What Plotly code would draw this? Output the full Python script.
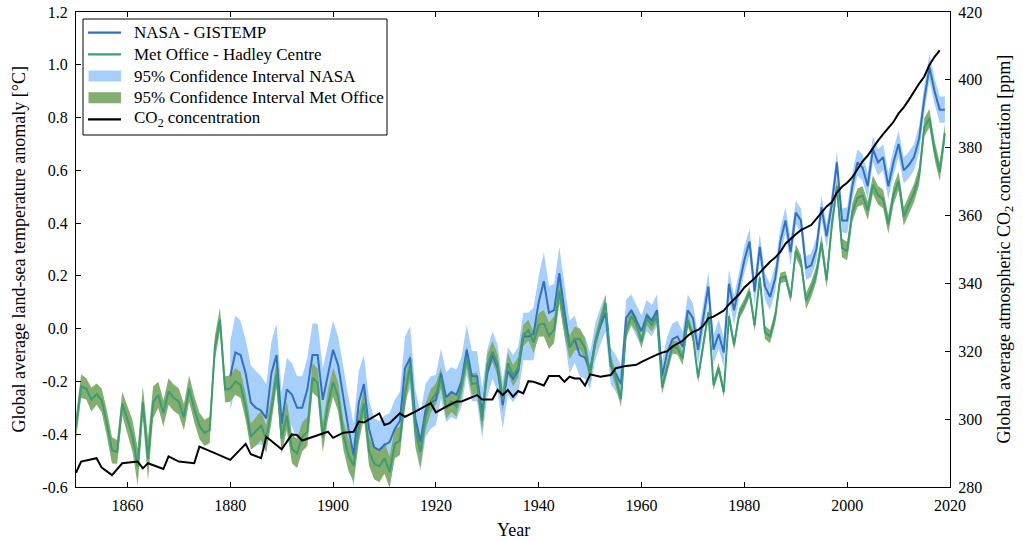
import plotly.graph_objects as go

# ---- Met Office HadCRUT anomalies (°C), 1850-2019 ----
met_years = list(range(1850, 2020))
met_anom = [
    -0.373, -0.218, -0.228, -0.269, -0.248, -0.272, -0.358, -0.461, -0.467, -0.284,
    -0.343, -0.407, -0.524, -0.278, -0.494, -0.279, -0.251, -0.321, -0.238, -0.262,
    -0.276, -0.335, -0.227, -0.304, -0.368, -0.395, -0.384, -0.075, 0.035, -0.230,
    -0.227, -0.200, -0.213, -0.296, -0.409, -0.389, -0.367, -0.418, -0.307, -0.171,
    -0.416, -0.330, -0.455, -0.473, -0.410, -0.390, -0.186, -0.206, -0.412, -0.289,
    -0.203, -0.259, -0.402, -0.479, -0.520, -0.377, -0.283, -0.465, -0.511, -0.522,
    -0.490, -0.544, -0.437, -0.424, -0.244, -0.141, -0.383, -0.468, -0.333, -0.275,
    -0.247, -0.187, -0.302, -0.276, -0.294, -0.215, -0.108, -0.210, -0.206, -0.350,
    -0.137, -0.087, -0.137, -0.273, -0.131, -0.178, -0.147, -0.026, -0.006, -0.052,
    0.014, 0.020, -0.027, -0.004, 0.144, 0.025, -0.071, -0.038, -0.039, -0.074,
    -0.173, -0.052, 0.028, 0.097, -0.129, -0.190, -0.267, -0.007, 0.046, 0.017,
    -0.049, 0.038, 0.014, 0.048, -0.223, -0.140, -0.068, -0.074, -0.113, 0.032,
    -0.027, -0.186, -0.065, 0.062, -0.214, -0.149, -0.241, 0.047, -0.062, 0.057,
    0.092, 0.140, 0.011, 0.194, -0.014, -0.030, 0.045, 0.192, 0.198, 0.118,
    0.296, 0.254, 0.105, 0.148, 0.208, 0.325, 0.183, 0.390, 0.539, 0.306,
    0.294, 0.441, 0.496, 0.505, 0.447, 0.545, 0.506, 0.491, 0.395, 0.506,
    0.560, 0.425, 0.470, 0.514, 0.579, 0.763, 0.797, 0.677, 0.595, 0.741,
]
# half-width of the 95% interval (°C)
met_ci = [
    0.045, 0.045, 0.040, 0.045, 0.040, 0.045, 0.050, 0.050, 0.045, 0.045,
    0.050, 0.060, 0.070, 0.060, 0.080, 0.060, 0.050, 0.050, 0.050, 0.050,
    0.050, 0.050, 0.050, 0.050, 0.050, 0.050, 0.050, 0.045, 0.045, 0.050,
    0.050, 0.050, 0.050, 0.050, 0.050, 0.055, 0.055, 0.050, 0.050, 0.050,
    0.055, 0.055, 0.055, 0.055, 0.055, 0.055, 0.055, 0.055, 0.055, 0.055,
    0.055, 0.055, 0.055, 0.060, 0.060, 0.055, 0.055, 0.055, 0.060, 0.060,
    0.060, 0.060, 0.055, 0.055, 0.055, 0.050, 0.060, 0.060, 0.050, 0.045,
    0.040, 0.040, 0.040, 0.040, 0.040, 0.040, 0.040, 0.040, 0.040, 0.040,
    0.040, 0.040, 0.040, 0.040, 0.040, 0.040, 0.040, 0.040, 0.040, 0.040,
    0.045, 0.050, 0.050, 0.050, 0.050, 0.050, 0.045, 0.045, 0.040, 0.040,
    0.030, 0.030, 0.030, 0.030, 0.030, 0.030, 0.030, 0.030, 0.030, 0.030,
    0.025, 0.025, 0.025, 0.025, 0.025, 0.025, 0.025, 0.025, 0.025, 0.025,
    0.020, 0.020, 0.020, 0.020, 0.020, 0.020, 0.020, 0.020, 0.020, 0.020,
    0.020, 0.020, 0.020, 0.020, 0.025, 0.025, 0.025, 0.020, 0.020, 0.020,
    0.025, 0.025, 0.030, 0.030, 0.030, 0.030, 0.030, 0.030, 0.030, 0.035,
    0.035, 0.035, 0.035, 0.035, 0.035, 0.035, 0.035, 0.035, 0.035, 0.035,
    0.035, 0.035, 0.035, 0.035, 0.035, 0.035, 0.035, 0.035, 0.035, 0.035,
]

# ---- NASA GISTEMP anomalies (°C), 1880-2019 ----
nasa_years = list(range(1880, 2020))
nasa_anom = [
    -0.18, -0.09, -0.10, -0.17, -0.28, -0.30, -0.31, -0.34, -0.17, -0.10,
    -0.36, -0.23, -0.25, -0.30, -0.30, -0.23, -0.10, -0.10, -0.27, -0.17,
    -0.08, -0.14, -0.26, -0.38, -0.48, -0.28, -0.21, -0.38, -0.45, -0.46,
    -0.44, -0.43, -0.38, -0.35, -0.15, -0.11, -0.34, -0.43, -0.31, -0.28,
    -0.27, -0.17, -0.26, -0.24, -0.25, -0.20, -0.08, -0.18, -0.18, -0.32,
    -0.17, -0.10, -0.15, -0.29, -0.16, -0.19, -0.16, -0.03, -0.03, -0.02,
    0.10, 0.18, 0.06, 0.07, 0.21, 0.07, -0.07, -0.04, -0.10, -0.11,
    -0.16, -0.05, 0.01, 0.06, -0.14, -0.17, -0.21, 0.04, 0.07, 0.03,
    -0.01, 0.05, 0.03, 0.07, -0.18, -0.09, -0.04, -0.03, -0.07, 0.07,
    0.04, -0.08, 0.04, 0.16, -0.08, -0.02, -0.09, 0.17, 0.07, 0.16,
    0.26, 0.33, 0.14, 0.31, 0.16, 0.12, 0.19, 0.33, 0.41, 0.29,
    0.44, 0.41, 0.23, 0.24, 0.30, 0.46, 0.35, 0.47, 0.63, 0.41,
    0.41, 0.54, 0.63, 0.61, 0.54, 0.68, 0.63, 0.65, 0.54, 0.63,
    0.70, 0.60, 0.62, 0.65, 0.72, 0.87, 0.99, 0.90, 0.83, 0.83,
]
nasa_ci = [
    0.13, 0.14, 0.13, 0.13, 0.14, 0.14, 0.13, 0.13, 0.12, 0.12,
    0.12, 0.12, 0.12, 0.12, 0.12, 0.12, 0.12, 0.12, 0.12, 0.11,
    0.11, 0.11, 0.11, 0.12, 0.12, 0.12, 0.11, 0.11, 0.11, 0.11,
    0.11, 0.11, 0.11, 0.11, 0.12, 0.12, 0.11, 0.11, 0.10, 0.10,
    0.095, 0.095, 0.095, 0.095, 0.095, 0.095, 0.095, 0.095, 0.095, 0.095,
    0.09, 0.09, 0.09, 0.09, 0.09, 0.09, 0.09, 0.09, 0.09, 0.10,
    0.10, 0.11, 0.10, 0.10, 0.10, 0.10, 0.10, 0.09, 0.08, 0.08,
    0.07, 0.07, 0.07, 0.07, 0.07, 0.07, 0.07, 0.07, 0.06, 0.06,
    0.06, 0.06, 0.06, 0.06, 0.06, 0.06, 0.06, 0.06, 0.06, 0.06,
    0.055, 0.055, 0.055, 0.055, 0.055, 0.055, 0.055, 0.055, 0.055, 0.055,
    0.05, 0.05, 0.05, 0.05, 0.05, 0.05, 0.05, 0.05, 0.05, 0.05,
    0.045, 0.045, 0.045, 0.045, 0.045, 0.045, 0.045, 0.045, 0.045, 0.045,
    0.05, 0.05, 0.05, 0.05, 0.05, 0.05, 0.05, 0.05, 0.05, 0.05,
    0.05, 0.05, 0.05, 0.05, 0.05, 0.05, 0.05, 0.05, 0.05, 0.05,
]

# ---- Atmospheric CO2 (ppm) ----
co2_years = [
    1850, 1851, 1854, 1855, 1857, 1859, 1862, 1863, 1864, 1867, 1868, 1870,
    1873, 1874, 1877, 1880, 1883, 1884, 1886, 1887, 1890, 1892, 1893, 1894,
    1899, 1900, 1902, 1904, 1905, 1906, 1909, 1910, 1911, 1912, 1913, 1914,
    1916, 1919, 1920, 1922, 1924, 1925, 1928, 1929, 1931, 1932, 1933, 1934,
    1935, 1936, 1937, 1938, 1939, 1941, 1942, 1944, 1945, 1946, 1947, 1948,
    1949, 1950, 1952, 1954, 1955, 1957,
    1959, 1960, 1961, 1962, 1963, 1964, 1965, 1966, 1967, 1968, 1969,
    1970, 1971, 1972, 1973, 1974, 1975, 1976, 1977, 1978, 1979,
    1980, 1981, 1982, 1983, 1984, 1985, 1986, 1987, 1988, 1989,
    1990, 1991, 1992, 1993, 1994, 1995, 1996, 1997, 1998, 1999,
    2000, 2001, 2002, 2003, 2004, 2005, 2006, 2007, 2008, 2009,
    2010, 2011, 2012, 2013, 2014, 2015, 2016, 2017, 2018,
]
co2_ppm = [
    284.2, 287.5, 288.5, 285.7, 283.5, 287.0, 287.5, 285.5, 287.0, 285.3, 289.0, 287.5,
    287.0, 291.9, 290.0, 288.0, 292.7, 289.7, 288.5, 294.8, 291.1, 295.5, 295.3, 293.7,
    296.3, 294.5, 296.0, 296.3, 299.3, 299.0, 301.7, 298.3, 298.8, 300.3, 301.7, 300.7,
    302.2, 304.7, 302.0, 303.7, 305.2, 305.2, 307.1, 305.8, 305.8, 308.6, 307.1, 308.6,
    306.6, 308.3, 307.6, 311.2, 311.0, 309.9, 312.7, 312.7, 311.0, 312.5, 312.0, 312.0,
    309.9, 313.2, 312.5, 313.0, 315.0, 315.7,
    316.0, 316.9, 317.6, 318.5, 319.0, 319.6, 320.0, 321.4, 322.2, 323.1, 324.6,
    325.7, 326.3, 327.5, 329.7, 330.2, 331.1, 332.0, 333.8, 335.4, 336.8,
    338.8, 340.1, 341.5, 343.2, 344.9, 346.4, 347.6, 349.3, 351.7, 353.2,
    354.5, 355.7, 356.5, 357.2, 359.0, 361.0, 362.7, 363.9, 366.8, 368.5,
    369.7, 371.3, 373.5, 376.0, 377.7, 380.0, 382.1, 384.0, 385.8, 387.6,
    390.1, 391.9, 394.1, 396.7, 398.9, 401.0, 404.4, 406.8, 408.7,
]

FONT = "Liberation Serif"
NASA_LINE = "#3471bd"
NASA_FILL = "#a7cffb"
MET_LINE = "#3c9c74"
MET_FILL = "#84ad70"

# plot-area geometry in pixels
W, H = 1023, 541
ML, MR, MT, MB = 76, 73, 12, 54
PW, PH = W - ML - MR, H - MT - MB


def px_x(px):
    """Pixel column -> paper x."""
    return (px - ML) / PW


def px_y(py):
    """Pixel row -> paper y."""
    return 1 - (py - MT) / PH


def band(x, centre, half, color, name):
    upper = [c + h for c, h in zip(centre, half)]
    lower = [c - h for c, h in zip(centre, half)]
    return go.Scatter(
        x=x + x[::-1], y=upper + lower[::-1],
        mode="lines", fill="toself", fillcolor=color,
        line=dict(width=0, color=color), name=name, hoverinfo="skip",
    )


fig = go.Figure()
fig.add_trace(band(nasa_years, nasa_anom, nasa_ci, NASA_FILL,
                   "95% Confidence Interval NASA"))
fig.add_trace(band(met_years, met_anom, met_ci, MET_FILL,
                   "95% Confidence Interval Met Office"))
fig.add_trace(go.Scatter(x=nasa_years, y=nasa_anom, mode="lines",
                         line=dict(color=NASA_LINE, width=2),
                         name="NASA - GISTEMP"))
fig.add_trace(go.Scatter(x=met_years, y=met_anom, mode="lines",
                         line=dict(color=MET_LINE, width=2),
                         name="Met Office - Hadley Centre"))
fig.add_trace(go.Scatter(x=co2_years, y=co2_ppm, mode="lines", yaxis="y2",
                         line=dict(color="black", width=2),
                         name="CO<sub>2</sub> concentration"))

temp_ticks = [-0.6, -0.4, -0.2, 0.0, 0.2, 0.4, 0.6, 0.8, 1.0, 1.2]
temp_labels = ["-0.6", "-0.4", "-0.2", "0.0", "0.2", "0.4", "0.6", "0.8", "1.0", "1.2"]
year_ticks = [1860, 1880, 1900, 1920, 1940, 1960, 1980, 2000, 2020]
co2_ticks = [280, 300, 320, 340, 360, 380, 400, 420]

axis_common = dict(showline=True, linecolor="black", linewidth=1.2,
                   ticks="inside", ticklen=5, tickcolor="black",
                   showgrid=False, zeroline=False, automargin=False,
                   ticklabelstandoff=4,
                   tickfont=dict(family=FONT, size=16, color="black"))

title_font = dict(family=FONT, size=18, color="black")
annotations = [
    dict(text="Year", xref="paper", yref="paper",
         x=0.5, y=px_y(530), xanchor="center", yanchor="middle",
         showarrow=False, font=title_font),
    dict(text="Global average land-sea temperature anomaly [°C]",
         xref="paper", yref="paper", x=px_x(18), y=0.5,
         xanchor="center", yanchor="middle", textangle=-90,
         showarrow=False, font=title_font),
    dict(text="Global average atmospheric CO<sub>2</sub> concentration [ppm]",
         xref="paper", yref="paper", x=px_x(1005), y=0.5,
         xanchor="center", yanchor="middle", textangle=-90,
         showarrow=False, font=title_font),
]

# legend box drawn in the upper-left corner of the plot
shapes = [dict(type="rect", xref="paper", yref="paper",
               x0=px_x(83), x1=px_x(387), y0=px_y(135), y1=px_y(19),
               line=dict(color="black", width=1), fillcolor="white",
               layer="above")]
legend_rows = [
    ("line", NASA_LINE, "NASA - GISTEMP"),
    ("line", MET_LINE, "Met Office - Hadley Centre"),
    ("rect", NASA_FILL, "95% Confidence Interval NASA"),
    ("rect", MET_FILL, "95% Confidence Interval Met Office"),
    ("line", "black", "CO<sub>2</sub> concentration"),
]
row_top, row_step = 32.7, 21.65
for i, (kind, color, label) in enumerate(legend_rows):
    cy = row_top + i * row_step
    if kind == "line":
        shapes.append(dict(type="line", xref="paper", yref="paper",
                           x0=px_x(88), x1=px_x(121), y0=px_y(cy), y1=px_y(cy),
                           line=dict(color=color, width=2.2), layer="above"))
    else:
        shapes.append(dict(type="rect", xref="paper", yref="paper",
                           x0=px_x(88.5), x1=px_x(121), y0=px_y(cy + 5.5),
                           y1=px_y(cy - 5.5), line=dict(width=0),
                           fillcolor=color, layer="above"))
    annotations.append(dict(text=label, xref="paper", yref="paper",
                            x=px_x(132), y=px_y(cy), xanchor="left",
                            yanchor="middle", showarrow=False,
                            font=dict(family=FONT, size=17, color="black")))

fig.update_layout(
    width=W, height=H,
    margin=dict(l=ML, r=MR, t=MT, b=MB),
    paper_bgcolor="white", plot_bgcolor="white",
    font=dict(family=FONT, size=16, color="black"),
    showlegend=False,
    xaxis=dict(range=[1850, 2020], tickvals=year_ticks, mirror="ticks",
               **axis_common),
    yaxis=dict(range=[-0.6, 1.2], tickvals=temp_ticks, ticktext=temp_labels,
               **axis_common),
    yaxis2=dict(range=[280, 420], tickvals=co2_ticks, overlaying="y", side="right",
                **axis_common),
    shapes=shapes,
    annotations=annotations,
)

fig.write_html("out.html")
